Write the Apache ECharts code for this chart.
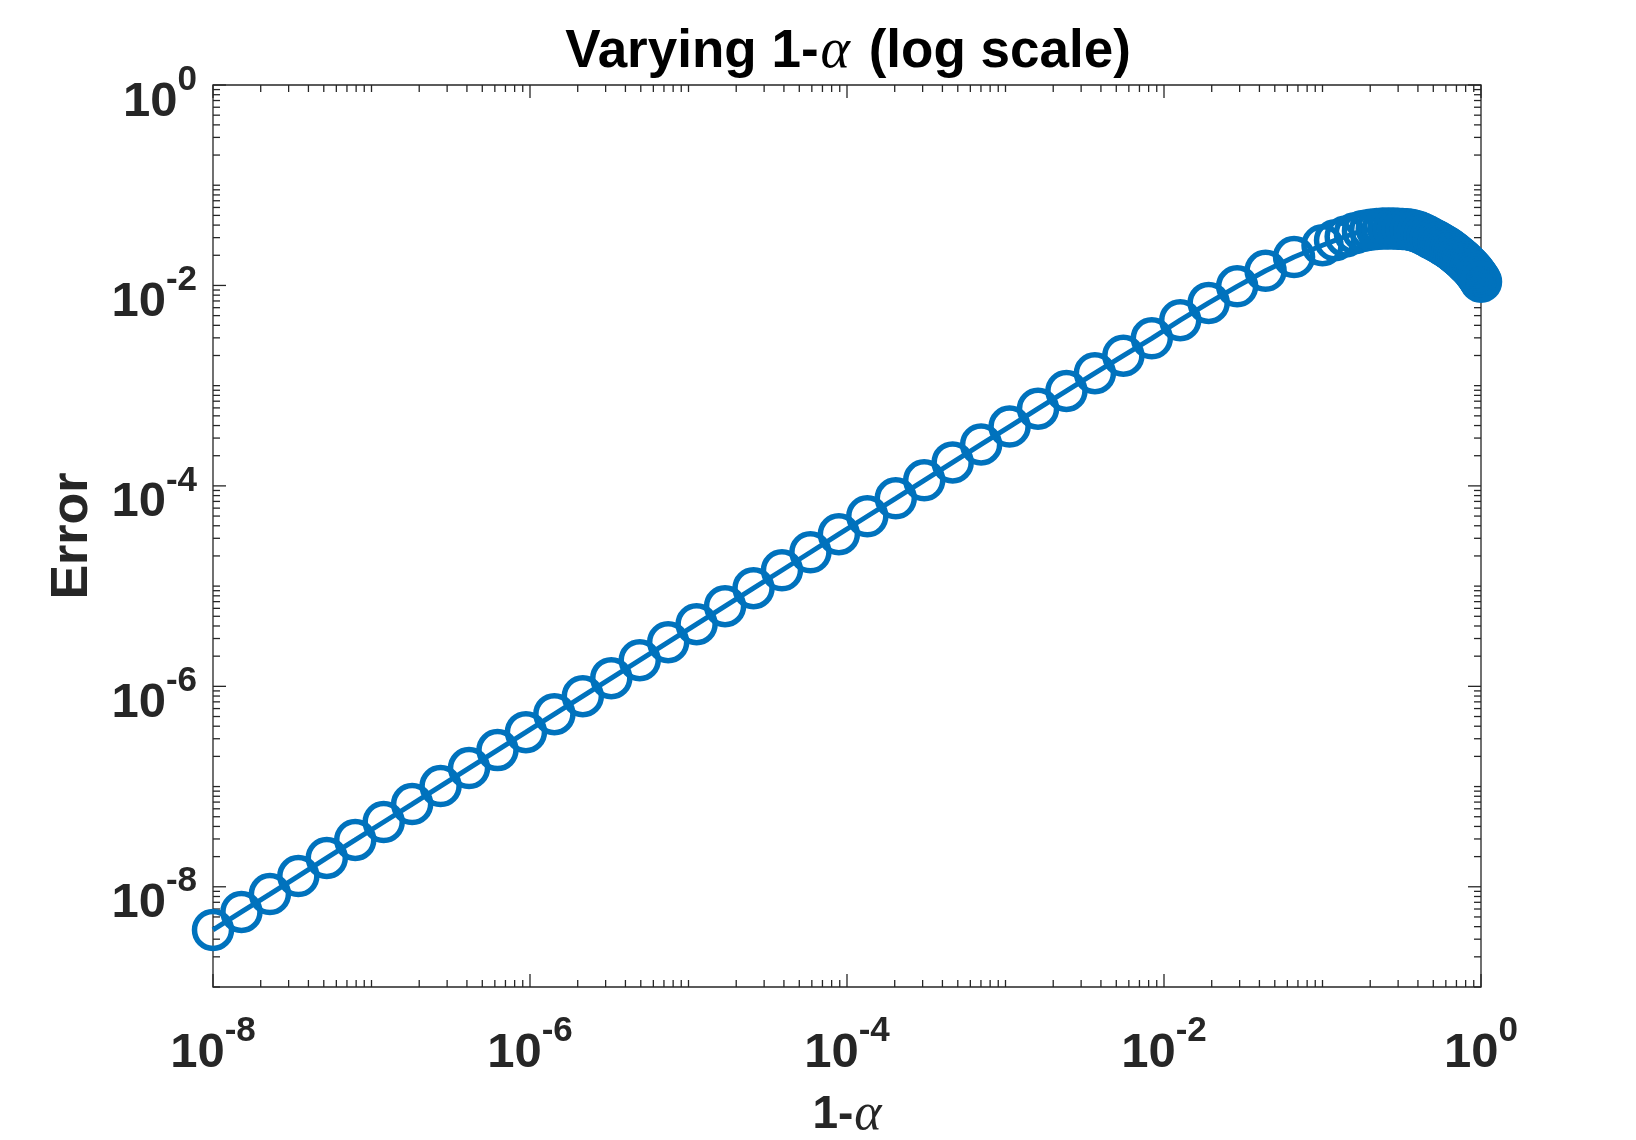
<!DOCTYPE html>
<html>
<head>
<meta charset="utf-8">
<script src="https://cdn.jsdelivr.net/npm/echarts@6/dist/echarts.min.js"></script>
<style>
  html, body { margin: 0; padding: 0; background: #fff; }
  #chart { width: 1636px; height: 1140px; }
</style>
</head>
<body>
<div id="chart"></div>
<script>
// ---- data ----
var xLog = [1e-8, 1.512e-8, 2.286e-8, 3.455e-8, 5.223e-8, 7.897e-8, 1.194e-7, 1.805e-7, 2.728e-7, 4.125e-7,
            6.236e-7, 9.427e-7, 1.425e-6, 2.154e-6, 3.257e-6, 4.924e-6, 7.444e-6, 1.125e-5, 1.701e-5, 2.572e-5,
            3.888e-5, 5.878e-5, 8.886e-5, 1.343e-4, 2.031e-4, 3.070e-4, 4.642e-4, 7.017e-4, 1.061e-3, 1.604e-3,
            2.424e-3, 3.665e-3, 5.541e-3, 8.377e-3, 1.266e-2, 1.914e-2, 2.894e-2, 4.375e-2, 6.615e-2, 0.1];
var yLog = [3.71e-9, 5.61e-9, 8.46e-9, 1.28e-8, 1.94e-8, 2.93e-8, 4.43e-8, 6.69e-8, 1.011e-7, 1.529e-7,
            2.310e-7, 3.492e-7, 5.280e-7, 7.98e-7, 1.207e-6, 1.824e-6, 2.758e-6, 4.170e-6, 6.303e-6, 9.53e-6,
            1.440e-5, 2.177e-5, 3.293e-5, 4.977e-5, 7.52e-5, 1.137e-4, 1.716e-4, 2.590e-4, 3.907e-4, 5.890e-4,
            8.864e-4, 1.331e-3, 1.992e-3, 2.967e-3, 4.50e-3, 6.70e-3, 9.80e-3, 1.40e-2, 1.92e-2, 2.52e-2];
var xLin = [0.12, 0.14, 0.16, 0.18, 0.20, 0.22, 0.24, 0.26, 0.28, 0.30,
            0.32, 0.34, 0.36, 0.38, 0.40, 0.42, 0.44, 0.46, 0.48, 0.50,
            0.52, 0.54, 0.56, 0.58, 0.60, 0.62, 0.64, 0.66, 0.68, 0.70,
            0.72, 0.74, 0.76, 0.78, 0.80, 0.82, 0.84, 0.86, 0.88, 0.90,
            0.92, 0.94, 0.96, 0.98, 1.00];
var yLin = [0.0282, 0.0308, 0.0332, 0.0350, 0.0360, 0.0366, 0.0369, 0.0370, 0.0370, 0.0368,
            0.0366, 0.0363, 0.0359, 0.0352, 0.0343, 0.0332, 0.0320, 0.0309, 0.0298, 0.0288,
            0.0279, 0.0270, 0.0261, 0.0252, 0.0244, 0.0236, 0.0228, 0.0220, 0.0212, 0.0204,
            0.0197, 0.0190, 0.0183, 0.0176, 0.0169, 0.0163, 0.0157, 0.0151, 0.0145, 0.0139,
            0.0133, 0.0127, 0.0121, 0.0115, 0.0109];

// axis ranges / tick decades
var xMin = 1e-8, xMax = 1;
var yMin = 1e-9, yMax = 1;
var xDecades = [-8, -7, -6, -5, -4, -3, -2, -1, 0];
var yDecades = [-9, -8, -7, -6, -5, -4, -3, -2, -1, 0];
var minorMultipliers = [2, 3, 4, 5, 6, 7, 8, 9];

// ---- build series data ----
var lineData = [];
for (var i = 0; i < xLog.length; i++) lineData.push([xLog[i], yLog[i]]);
for (var j = 0; j < xLin.length; j++) lineData.push([xLin[j], yLin[j]]);

// tick items: [xValue, yValue, axis(0=x,1=y), major(1/0)]
var tickData = [];
xDecades.forEach(function (d, idx) {
  var base = Math.pow(10, d);
  tickData.push([base, yMin, 0, (d % 2 === 0) ? 1 : 0]);
  if (idx < xDecades.length - 1) {
    minorMultipliers.forEach(function (m) { tickData.push([m * base, yMin, 0, 0]); });
  }
});
yDecades.forEach(function (d, idx) {
  var base = Math.pow(10, d);
  tickData.push([xMin, base, 1, (d % 2 === 0) ? 1 : 0]);
  if (idx < yDecades.length - 1) {
    minorMultipliers.forEach(function (m) { tickData.push([xMin, m * base, 1, 0]); });
  }
});

var AX = '#262626';
var BLUE = '#0072BD';
var SANS = 'Liberation Sans, Arial, Helvetica, sans-serif';
var SERIF = 'Liberation Serif, DejaVu Serif, serif';

function powLabel(v) {
  var e = Math.round(Math.log10(v));
  if (e % 2 !== 0) return '';
  return '{b|10}{s|' + e + '}';
}
var labelRich = {
  b: { fontFamily: SANS, fontWeight: 'bold', fontSize: 49, color: AX, lineHeight: 64, verticalAlign: 'bottom' },
  s: { fontFamily: SANS, fontWeight: 'bold', fontSize: 35, color: AX, lineHeight: 25, verticalAlign: 'top' }
};

var chart = echarts.init(document.getElementById('chart'), null, { renderer: 'canvas' });
chart.setOption({
  animation: false,
  backgroundColor: '#ffffff',
  title: {
    text: '{t|Varying 1-}{a|α}{t| (log scale)}',
    left: 848,
    top: 22,
    padding: 0,
    textAlign: 'center',
    textStyle: {
      rich: {
        t: { fontFamily: SANS, fontWeight: 'bold', fontSize: 53, color: '#000', lineHeight: 60 },
        a: { fontFamily: SERIF, fontStyle: 'italic', fontWeight: 'normal', fontSize: 56, color: '#000', lineHeight: 60, padding: [0, 4, 0, 2] }
      }
    }
  },
  grid: {
    left: 213, right: 155, top: 85, bottom: 153,
    show: true, borderColor: AX, borderWidth: 1.3, backgroundColor: '#fff',
    containLabel: false,
    outerBoundsMode: 'none'
  },
  xAxis: {
    type: 'log', logBase: 10, min: xMin, max: xMax, splitNumber: 8,
    axisLine: { show: false }, axisTick: { show: false }, splitLine: { show: false },
    axisLabel: { formatter: powLabel, rich: labelRich, margin: 27 },
    name: '{n|1-}{a|α}',
    nameLocation: 'middle',
    nameGap: 106,
    nameTextStyle: {
      rich: {
        n: { fontFamily: SANS, fontWeight: 'bold', fontSize: 46, color: AX, lineHeight: 44 },
        a: { fontFamily: SERIF, fontStyle: 'italic', fontSize: 52, color: AX, lineHeight: 44, padding: [0, 0, 0, 1] }
      }
    }
  },
  yAxis: {
    type: 'log', logBase: 10, min: yMin, max: yMax, splitNumber: 9,
    axisLine: { show: false }, axisTick: { show: false }, splitLine: { show: false },
    axisLabel: { formatter: powLabel, rich: labelRich, margin: 16, padding: [19, 0, 0, 0] },
    name: 'Error',
    nameLocation: 'middle',
    nameRotate: 90,
    nameGap: 111,
    nameTextStyle: { fontFamily: SANS, fontWeight: 'bold', fontSize: 52, color: AX, lineHeight: 56 }
  },
  series: [
    {
      type: 'custom',
      coordinateSystem: 'cartesian2d',
      clip: false,
      silent: true,
      data: tickData,
      renderItem: function (params, api) {
        var cs = params.coordSys;
        var axis = api.value(2);
        var len = api.value(3) ? 13 : 7;
        var p = api.coord([api.value(0), api.value(1)]);
        var segs;
        if (axis === 0) {
          var x = p[0];
          segs = [[x, cs.y + cs.height, x, cs.y + cs.height - len], [x, cs.y, x, cs.y + len]];
        } else {
          var y = p[1];
          segs = [[cs.x, y, cs.x + len, y], [cs.x + cs.width, y, cs.x + cs.width - len, y]];
        }
        return {
          type: 'group',
          children: segs.map(function (s) {
            return { type: 'line', shape: { x1: s[0], y1: s[1], x2: s[2], y2: s[3] },
                     style: { stroke: AX, lineWidth: 1.3 } };
          })
        };
      }
    },
    {
      type: 'line',
      data: lineData,
      clip: false,
      symbol: 'circle',
      symbolSize: 37,
      showSymbol: true,
      lineStyle: { color: BLUE, width: 5 },
      itemStyle: { color: 'rgba(0,0,0,0)', borderColor: BLUE, borderWidth: 5.5 },
      emphasis: { disabled: true },
      z: 5
    }
  ]
});
</script>
</body>
</html>
